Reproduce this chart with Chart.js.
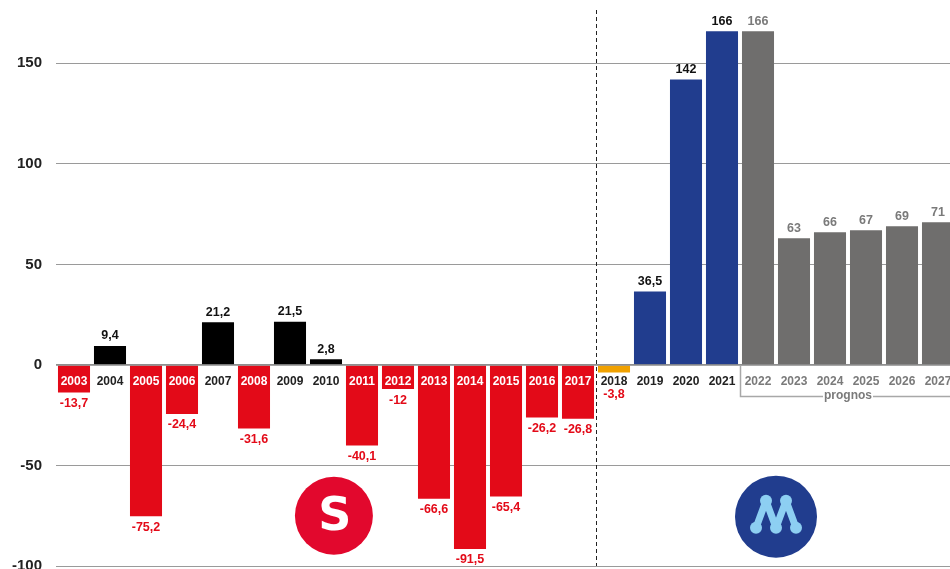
<!DOCTYPE html>
<html><head><meta charset="utf-8">
<script src="https://cdn.jsdelivr.net/npm/chart.js@4/dist/chart.umd.min.js"></script>
<style>html,body{margin:0;padding:0;background:#fff;overflow:hidden;width:950px;height:569px}canvas{display:block}</style>
</head><body>
<canvas id="c" width="960" height="569"></canvas>
<script>
const years = ['2003','2004','2005','2006','2007','2008','2009','2010','2011','2012','2013','2014','2015','2016','2017','2018','2019','2020','2021','2022','2023','2024','2025','2026','2027'];
const values = [-13.7,9.4,-75.2,-24.4,21.2,-31.6,21.5,2.8,-40.1,-12,-66.6,-91.5,-65.4,-26.2,-26.8,-3.8,36.5,142,166,166,63,66,67,69,71];
const valueLabels = ['-13,7','9,4','-75,2','-24,4','21,2','-31,6','21,5','2,8','-40,1','-12','-66,6','-91,5','-65,4','-26,2','-26,8','-3,8','36,5','142','166','166','63','66','67','69','71'];
const yTicks = [-100,-50,0,50,100,150];
const forecastFrom = '2022';
const forecastLabel = 'prognos';

const RED='#e30a18', BLACK='#000000', ORANGE='#f0a100', BLUE='#213d8e', GRAY='#6f6e6d';
function barColor(i){
  const y=+years[i], v=values[i];
  if(y<=2017) return v<0?RED:BLACK;
  if(y===2018) return ORANGE;
  if(y<=2021) return BLUE;
  return GRAY;
}
const FONT='"Liberation Sans", Arial, sans-serif';

const labelsPlugin={
  id:'labels',
  afterDatasetsDraw(chart){
    const ctx=chart.ctx, xs=chart.scales.x, ys=chart.scales.y;
    const zero=ys.getPixelForValue(0);
    const fi=years.indexOf(forecastFrom);
    const ca=chart.chartArea;
    ctx.save();
    ctx.strokeStyle='#8a8a8a';ctx.lineWidth=1.5;
    ctx.beginPath();ctx.moveTo(ca.left,zero);ctx.lineTo(ca.right,zero);ctx.stroke();
    const sepX=(xs.getPixelForValue(14)+xs.getPixelForValue(15))/2;
    ctx.strokeStyle='#222';ctx.lineWidth=1;ctx.setLineDash([4,3]);
    ctx.beginPath();ctx.moveTo(Math.round(sepX)+0.5,ca.top+7);ctx.lineTo(Math.round(sepX)+0.5,ca.bottom);ctx.stroke();
    ctx.setLineDash([]);
    ctx.textAlign='center';ctx.textBaseline='middle';
    for(let i=0;i<years.length;i++){
      const x=xs.getPixelForValue(i);
      const v=values[i];
      const forecast=i>=fi;
      ctx.font='bold 12px '+FONT;
      ctx.fillStyle= v<-10 ? '#ffffff' : (forecast?'#7a7a7a':'#222');
      ctx.fillText(years[i],x,zero+17);
      ctx.font='bold 12.5px '+FONT;
      const yp=ys.getPixelForValue(v);
      if(v>=0){
        ctx.fillStyle=forecast?'#7a7a7a':'#111';
        ctx.fillText(valueLabels[i],x,yp-10);
      }else{
        ctx.fillStyle=RED;
        ctx.fillText(valueLabels[i],x,Math.max(yp+11,zero+30));
      }
    }
    const bx=Math.round((xs.getPixelForValue(fi-1)+xs.getPixelForValue(fi))/2)+0.5;
    const by=Math.round(zero+31)+0.5;
    const right=chart.width;
    ctx.strokeStyle='#a8a8a8';ctx.lineWidth=1.5;
    ctx.font='bold 12px '+FONT;
    const tx=xs.getPixelForValue(fi+2.5);
    const tw=ctx.measureText(forecastLabel).width;
    ctx.beginPath();ctx.moveTo(bx,zero+1);ctx.lineTo(bx,by);ctx.lineTo(tx-tw/2-1,by);
    ctx.moveTo(tx+tw/2+1,by);ctx.lineTo(right,by);ctx.stroke();
    ctx.fillStyle='#7a7a7a';ctx.fillText(forecastLabel,tx,by-1);
    // S logo
    const sx=xs.getPixelForValue(7.22), sy=ys.getPixelForValue(-75);
    ctx.fillStyle='#e2082d';ctx.beginPath();ctx.arc(sx,sy,39,0,Math.PI*2);ctx.fill();
    ctx.fillStyle='#fff';ctx.font='bold 46px "DejaVu Sans", '+FONT;
    ctx.fillText('S',sx+1,sy+2);
    // M logo
    const mx=xs.getPixelForValue(19.5), my=ys.getPixelForValue(-75.5);
    ctx.fillStyle='#213d8e';ctx.beginPath();ctx.arc(mx,my,41,0,Math.PI*2);ctx.fill();
    const pts=[[-20,11],[-10,-16],[0,11],[10,-16],[20,11]];
    ctx.strokeStyle='#8dcff2';ctx.fillStyle='#8dcff2';ctx.lineWidth=7;ctx.lineJoin='round';
    ctx.beginPath();pts.forEach((p,k)=>{k?ctx.lineTo(mx+p[0],my+p[1]):ctx.moveTo(mx+p[0],my+p[1]);});ctx.stroke();
    pts.forEach(p=>{ctx.beginPath();ctx.arc(mx+p[0],my+p[1],6,0,Math.PI*2);ctx.fill();});
    ctx.restore();
  }
};

new Chart(document.getElementById('c'),{
  type:'bar',
  data:{labels:years,datasets:[{data:values,backgroundColor:values.map((v,i)=>barColor(i)),barPercentage:0.89,categoryPercentage:1,borderWidth:0}]},
  options:{
    responsive:false,animation:false,devicePixelRatio:1,
    layout:{padding:{left:0,right:4,top:3,bottom:3}},
    plugins:{legend:{display:false},tooltip:{enabled:false}},
    scales:{
      x:{display:false,offset:true,grid:{display:false}},
      y:{min:-100,max:180,
        afterBuildTicks(s){s.ticks=yTicks.map(v=>({value:v}));},
        afterFit(s){s.width=56;s.paddingTop=0;s.paddingBottom=0;},
        border:{display:false},
        grid:{color:'#9a9a9a',lineWidth:1,drawTicks:false},
        ticks:{padding:14,color:'#222',font:{family:FONT,size:15,weight:'bold'}}
      }
    }
  },
  plugins:[labelsPlugin]
});
</script>
</body></html>
